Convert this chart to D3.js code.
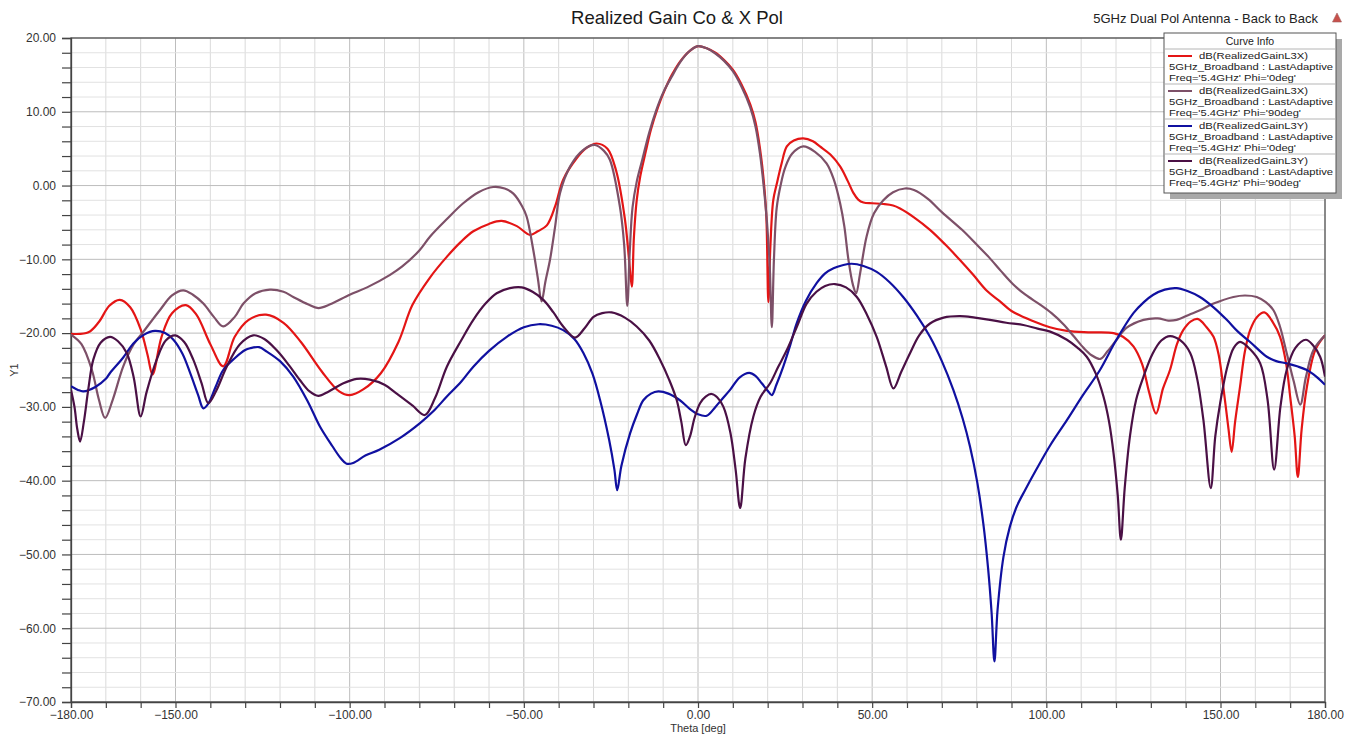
<!DOCTYPE html>
<html><head><meta charset="utf-8">
<script src="https://cdn.jsdelivr.net/npm/d3@7/dist/d3.min.js"></script>
<style>
html,body{margin:0;padding:0;background:#fff;}
svg{display:block;font-family:"Liberation Sans",Arial,sans-serif;}
</style></head>
<body>
<svg id="chart" width="1354" height="738"></svg>
<script>
// ---------------- data ----------------
const xTicks = [-180,-150,-100,-50,0,50,100,150,180];
const yTicks = [20,10,0,-10,-20,-30,-40,-50,-60,-70];

const redTheta = [-180,-175,-172,-169,-166,-163,-160,-158,-156.6,-154,-151,-147,-144,-140,-136.3,-133,-129,-124,-119,-114,-108,-103,-100,-96,-91,-86,-82,-77,-72,-68,-64.5,-60,-56.4,-52,-48.2,-46,-43.4,-41,-38.7,-35,-32,-29.1,-26,-23.5,-21,-19.8,-19,-18.4,-17.6,-16.6,-15,-13.5,-11.5,-9.5,-7.5,-5,-2.5,0,2.5,5,7.5,10,12.5,15,16.5,17.8,18.8,19.6,20.2,20.8,21.6,22.6,24,25.5,27.5,30.2,33,35,38,40.8,43,44.6,46,47.5,50,53.2,56,58,62,66.6,71,75.2,79,83,86.7,90,96.3,101,105.9,112,119.3,122,125,127.5,129.5,131.5,133.5,135.5,137.5,139.3,141.5,143.6,146,148,149.5,150.8,152.3,153.2,154.2,155.6,157,158.5,160.5,162.6,165,167.1,168.8,170,171.3,172.2,173.3,174.8,177.2,180];
const redGain = [-20.1,-19.9,-18.5,-16.3,-15.5,-16.5,-19.5,-23,-25.6,-20.5,-17.3,-16.2,-17.5,-21.5,-24.5,-20.5,-18.2,-17.5,-18.6,-21.2,-25.2,-27.9,-28.4,-27.6,-25.4,-21.2,-16.2,-12.5,-9.6,-7.6,-6.2,-5.2,-4.8,-5.5,-6.7,-6.2,-5.4,-2.8,0.8,3.6,5.1,5.7,5.0,2.0,-4.5,-10,-13.7,-7,-2,1.2,4.6,7.6,10.6,13.0,15.0,16.9,18.2,18.9,18.6,18.0,17.0,15.7,13.7,11.0,8.6,5.0,1.0,-4,-15.8,-8,-2,0.2,3,5.3,6.1,6.4,6.0,5.3,4.2,2.6,0.6,-1.0,-1.9,-2.3,-2.4,-2.5,-2.7,-3.1,-4.3,-6.0,-8.0,-10.1,-12.1,-14.3,-15.7,-17.0,-18.4,-19.2,-19.7,-19.9,-20.0,-20.5,-21.8,-24.2,-28,-30.9,-27.5,-25,-21.5,-19.6,-18.4,-18.1,-19.2,-20.5,-23,-27.3,-33,-36.1,-32,-27.3,-22.5,-19.6,-17.8,-17.2,-18.5,-20.5,-24,-28.6,-34,-39.5,-33,-27.3,-22.3,-20.3];

const mauveTheta = [-180,-177,-174,-172,-170.2,-168,-165,-162,-159.2,-154.5,-151,-147.8,-145,-142,-139,-136.3,-133,-130.5,-127,-122.9,-119,-116.2,-112,-109,-105.6,-100,-95,-88.4,-85,-80,-76.9,-72,-67.4,-63,-58.8,-55.5,-53,-50.5,-49.2,-47.3,-46,-44.9,-43.8,-42.5,-41,-39.6,-36.7,-33,-29.6,-27,-25.3,-22.4,-21.2,-20.3,-19.6,-18.8,-17.6,-16,-14,-12,-10,-7.5,-5,-2.5,0,2.5,5,7.5,10,12.5,15,16.5,17.8,18.8,19.8,20.6,21.2,21.8,22.6,23.7,25,27,30.2,33.5,36.9,39,40.8,42,43.2,44.5,45.4,46.5,48.4,50.5,53.2,56,59.4,62,66,70,75.8,80,83.5,87,90.3,94,98.1,101.5,104.9,108,110.7,113,115.5,117.5,120.2,123,127.9,132,135,137.4,141,144.1,148,153.7,157,160.4,163,165.2,167,169,171,172.9,174.5,176.7,180];
const mauveGain = [-20.2,-21.5,-25,-29,-31.5,-29,-24.5,-21.5,-19.8,-16.9,-14.9,-14.2,-14.8,-16.0,-17.8,-19.1,-17.8,-16.0,-14.6,-14.1,-14.4,-15.1,-16.1,-16.6,-16.1,-14.8,-13.8,-12.1,-11.0,-8.8,-6.9,-4.5,-2.4,-0.9,-0.2,-0.4,-1.1,-2.8,-4.2,-8.7,-12.5,-15.7,-13,-10.1,-5.5,-1.0,2.6,4.8,5.5,4.7,3.5,-2.9,-8,-16.3,-9,-3,0.5,3.5,7.2,10.2,12.6,14.8,16.8,18.2,18.9,18.6,17.9,16.9,15.5,13.4,10.6,8.0,4.3,0.2,-5,-11,-19.2,-10,-3,0,2.4,4.3,5.3,4.6,3.0,0.8,-2.4,-5.5,-10.1,-13.5,-14.6,-12,-6.9,-3.8,-2.0,-0.9,-0.4,-0.6,-1.8,-3.6,-6.0,-8,-9.7,-11.6,-13.3,-14.8,-16.1,-17.3,-18.8,-20.5,-22.0,-23.0,-23.5,-22.5,-20.9,-19.3,-18.2,-18.0,-18.3,-18.2,-17.5,-16.9,-16.0,-15.1,-14.9,-15.1,-15.8,-16.9,-19,-22.7,-26.5,-29.7,-26,-22.3,-20.3];

const blueTheta = [-180,-178,-176.5,-173,-170,-168.8,-165,-162.1,-159,-155.9,-153,-150.6,-148,-145.8,-143.5,-142,-140.5,-138.5,-136.3,-133,-130,-128.6,-126,-123.8,-120,-116.2,-112,-108.5,-105,-102.5,-100.9,-99,-95.5,-91.5,-85.5,-79.8,-76,-72.1,-68,-64.5,-60,-54.9,-50,-45.8,-42,-38.7,-35.5,-32.9,-30.3,-28.1,-25.5,-24,-23.2,-22,-19.5,-17.5,-15.7,-13.5,-11.4,-8.5,-5.2,-2.3,0,2.5,5,7,9.2,12,14.7,16.5,18.3,20,21.2,22.5,24.5,26.5,28.3,31,34.1,36.5,38.9,41.5,44.1,47.5,51.3,55,58.9,62.8,66.6,70,73.3,76,78.1,80.2,81.9,83.3,84.3,85.1,86,87.7,89.5,91.5,94,97,101,105.9,110.5,115.4,120,125,128,130.7,134,137.4,140.5,144.1,148,151.8,155,158.5,163.3,166,169,172,174.8,177.5,180];
const blueGain = [-27.2,-27.7,-27.9,-27.3,-26.2,-25.4,-23.3,-21.4,-20.2,-19.7,-20.0,-20.9,-22.8,-25.4,-28.4,-30.2,-29.5,-27.3,-25.0,-23.4,-22.3,-22.05,-21.9,-22.5,-23.8,-25.9,-29.3,-32.7,-35.3,-37.0,-37.7,-37.6,-36.6,-35.8,-34.2,-32.2,-30.6,-28.6,-26.6,-24.55,-22.4,-20.5,-19.2,-18.8,-19.0,-19.6,-20.8,-22.7,-25.5,-29.1,-34.5,-38.5,-41.3,-38,-33.6,-31.0,-29.1,-28.2,-27.9,-28.2,-29.1,-30.3,-31.0,-31.2,-30.0,-28.9,-27.7,-26.0,-25.4,-25.8,-26.8,-27.8,-28.4,-27.0,-24.5,-21.6,-18.7,-15.6,-13.2,-11.9,-11.2,-10.8,-10.6,-10.9,-11.7,-13.1,-15.1,-17.6,-20.5,-23.8,-27.7,-31.6,-35.4,-40.3,-45.8,-52,-58,-64.5,-57.5,-50.3,-46.3,-43.5,-41.2,-38.6,-35.3,-31.8,-28.4,-25.0,-21.0,-17.3,-15.8,-14.8,-14.1,-13.9,-14.3,-15.1,-16.5,-18.2,-19.8,-21.2,-23.2,-23.8,-24.1,-24.5,-25.0,-25.9,-27.0];

const purpleTheta = [-180,-179,-178.2,-177.4,-176.3,-175,-173.6,-171.5,-168.8,-166.5,-164,-162,-160,-158.3,-155.4,-152.8,-150.1,-147.5,-144.9,-142.5,-140.6,-138.3,-135.3,-131.5,-127.7,-124.5,-121,-117.5,-114.3,-111.5,-109,-106,-101.8,-98,-94.2,-90,-86.5,-82,-78.4,-75.5,-72.1,-68,-64.5,-61,-57.8,-54,-50.6,-47.5,-44.4,-41.5,-38.7,-35.3,-32.5,-30,-27.5,-24.8,-21,-17.6,-14,-10.9,-8.3,-6.1,-4.8,-3.5,-2.3,-1,0.6,2.2,3.9,5.5,7.3,9.3,10.8,12.1,13.6,15.9,18,20.7,23,25.5,28.5,31.2,34,36.5,39.3,42.5,45.6,48.5,51.3,54,56.1,58.3,60.9,63.5,66.6,70.5,75.2,79.5,83.8,88.5,93.4,97.5,101.1,105.9,109,111.6,114.2,116.4,118,119.3,120.5,121.4,122.5,124,125.8,127.9,130.5,133,135.5,138.5,141.3,143.3,145.1,147.2,148.5,149.9,152,153.8,155.6,158.5,161.4,163.5,165.4,167.2,169,171.5,174.5,176.5,178.6,180];
const purpleGain = [-27.7,-30,-33,-34.7,-32,-27.5,-23.6,-21.3,-20.5,-21.1,-22.7,-26,-31.3,-28,-23.6,-21.0,-20.3,-21.2,-23.6,-26.8,-29.5,-27.8,-24.55,-21.5,-20.3,-20.8,-22.3,-24.3,-26.35,-27.9,-28.5,-27.9,-26.8,-26.2,-26.3,-27.0,-28.2,-29.8,-31.1,-28.8,-24.55,-21.0,-18.2,-16.0,-14.6,-13.9,-13.8,-14.4,-15.5,-17.2,-19.1,-20.6,-19.3,-17.8,-17.3,-17.2,-17.9,-19.1,-21.0,-23.6,-26.3,-29.1,-32,-35.2,-34.0,-31.5,-29.5,-28.6,-28.25,-28.7,-30.0,-33.5,-38.5,-43.7,-37,-31.3,-28.6,-26.8,-24.6,-22.3,-19.0,-16.0,-14.4,-13.6,-13.35,-13.8,-15.1,-17.5,-20.5,-24.5,-27.5,-25.3,-22.7,-20.3,-18.7,-17.9,-17.7,-17.9,-18.2,-18.6,-18.9,-19.4,-19.8,-20.9,-22,-23.2,-25.5,-28.6,-32,-36.3,-42,-48.0,-41,-34.0,-29.0,-25.9,-22.8,-21.0,-20.4,-21.0,-22.7,-26.2,-31.8,-41.0,-34,-29.5,-24.5,-22.0,-21.2,-22.2,-24.1,-29,-38.5,-30,-25.0,-22.0,-20.9,-21.6,-23.2,-25.9];

const seriesNames = ["dB(RealizedGainL3X)","dB(RealizedGainL3X)","dB(RealizedGainL3Y)","dB(RealizedGainL3Y)"];
const seriesSetup = "5GHz_Broadband : LastAdaptive";
const seriesFreq = ["Freq='5.4GHz' Phi='0deg'","Freq='5.4GHz' Phi='90deg'","Freq='5.4GHz' Phi='0deg'","Freq='5.4GHz' Phi='90deg'"];
const seriesColors = ["#e41515","#7d5068","#1010a0","#4a1045"];

const series = [
  {theta: redTheta, gain: redGain},
  {theta: mauveTheta, gain: mauveGain},
  {theta: blueTheta, gain: blueGain},
  {theta: purpleTheta, gain: purpleGain}
];

// ---------------- drawing ----------------
const svg = d3.select("#chart");
const L = 71, R = 1325, T = 38, B = 702;
const x = d3.scaleLinear().domain([-180,180]).range([L,R]);
const y = d3.scaleLinear().domain([-70,20]).range([B,T]);
const fmt = d3.format(".2f");

// grid
const g = svg.append("g");
const minorX = d3.range(-180,181,10);
const minorY = d3.range(-70,21,2);
g.selectAll(".gxm").data(minorX).join("line")
  .attr("x1",d=>x(d)).attr("x2",d=>x(d)).attr("y1",T).attr("y2",B)
  .attr("stroke",d=> d%50===0 ? "#bdbdbd" : "#dadada").attr("stroke-width",1);
g.selectAll(".gym").data(minorY).join("line")
  .attr("y1",d=>y(d)).attr("y2",d=>y(d)).attr("x1",L).attr("x2",R)
  .attr("stroke",d=> d%10===0 ? "#bdbdbd" : "#e2e2e2").attr("stroke-width",1);

// frame
svg.append("rect").attr("x",L).attr("y",T).attr("width",R-L).attr("height",B-T)
  .attr("fill","none").attr("stroke","#555").attr("stroke-width",1.3);

// axes
const yAxis = d3.axisLeft(y).tickValues(minorY).tickSize(9).tickFormat(d=> yTicks.includes(d) ? fmt(d) : "");
const ya = svg.append("g").attr("transform",`translate(${L},0)`).call(yAxis);
ya.select(".domain").attr("stroke","#444").attr("stroke-width",1.3);
ya.selectAll(".tick line").attr("stroke","#444").attr("stroke-width",1.2);
ya.selectAll(".tick text").attr("font-size",12).attr("fill","#333").attr("x",-15)
  .attr("font-family","'Liberation Sans',Arial,sans-serif");

const xAxis = d3.axisBottom(x).tickValues(minorX).tickSize(6).tickFormat(d=> xTicks.includes(d) ? fmt(d) : "");
const xa = svg.append("g").attr("transform",`translate(0,${B})`).call(xAxis);
xa.select(".domain").attr("stroke","#444").attr("stroke-width",1.3);
xa.selectAll(".tick line").attr("stroke","#444").attr("stroke-width",1.2);
xa.selectAll(".tick text").attr("font-size",12).attr("fill","#333").attr("y",8)
  .attr("font-family","'Liberation Sans',Arial,sans-serif");

// curves
const line = d3.line().x(d=>x(d[0])).y(d=>y(d[1])).curve(d3.curveCatmullRom.alpha(0.5));
const clip = svg.append("clipPath").attr("id","clip").append("rect")
  .attr("x",L).attr("y",T).attr("width",R-L).attr("height",B-T);
const cg = svg.append("g").attr("clip-path","url(#clip)");
series.forEach((s,i)=>{
  const pts = s.theta.map((t,k)=>[t, s.gain[k]]);
  cg.append("path").datum(pts).attr("d",line)
    .attr("fill","none").attr("stroke",seriesColors[i]).attr("stroke-width",2.2)
    .attr("stroke-linejoin","round");
});

// titles
svg.append("text").attr("x",677).attr("y",24).attr("text-anchor","middle")
  .attr("font-size",18.5).attr("fill","#1a1a1a").text("Realized Gain Co & X Pol");
svg.append("text").attr("x",1318).attr("y",23).attr("text-anchor","end")
  .attr("font-size",13).attr("fill","#222").text("5GHz Dual Pol Antenna - Back to Back");
svg.append("path").attr("d","M1337,13 L1341.5,22 L1332.5,22 Z").attr("fill","#c8504a").attr("stroke","#a06060").attr("stroke-width",0.6);

svg.append("text").attr("x",698).attr("y",732).attr("text-anchor","middle")
  .attr("font-size",11).attr("fill","#333").text("Theta [deg]");
svg.append("text").attr("transform","translate(18,370) rotate(-90)").attr("text-anchor","middle")
  .attr("font-size",11).attr("fill","#333").text("Y1");

// legend
const lx = 1164, ly = 33, lw = 172, lh = 160;
svg.append("rect").attr("x",lx+6).attr("y",ly+6).attr("width",lw).attr("height",lh).attr("fill","#a9a9a9");
svg.append("rect").attr("x",lx).attr("y",ly).attr("width",lw).attr("height",lh).attr("fill","#fff").attr("stroke","#555").attr("stroke-width",1);
svg.append("text").attr("x",lx+lw/2).attr("y",ly+12).attr("text-anchor","middle")
  .attr("font-size",10.5).attr("fill","#222").text("Curve Info");
const fs = 9.6;
seriesNames.forEach((nm,i)=>{
  const sy = 49 + 35*i;
  svg.append("line").attr("x1",lx+1).attr("x2",lx+lw-1).attr("y1",sy).attr("y2",sy).attr("stroke","#b5b5b5");
  svg.append("line").attr("x1",1168).attr("x2",1192).attr("y1",sy+7).attr("y2",sy+7)
    .attr("stroke",seriesColors[i]).attr("stroke-width",2);
  svg.append("text").attr("x",1199).attr("y",sy+10.3).attr("font-size",fs).attr("fill","#222")
    .attr("textLength",109).attr("lengthAdjust","spacingAndGlyphs").text(nm);
  svg.append("text").attr("x",1169).attr("y",sy+21.1).attr("font-size",fs).attr("fill","#222")
    .attr("textLength",164).attr("lengthAdjust","spacingAndGlyphs").text(seriesSetup);
  svg.append("text").attr("x",1169).attr("y",sy+31.9).attr("font-size",fs).attr("fill","#222")
    .attr("textLength", i%2===0 ? 127 : 132).attr("lengthAdjust","spacingAndGlyphs").text(seriesFreq[i]);
});
</script>
</body></html>
